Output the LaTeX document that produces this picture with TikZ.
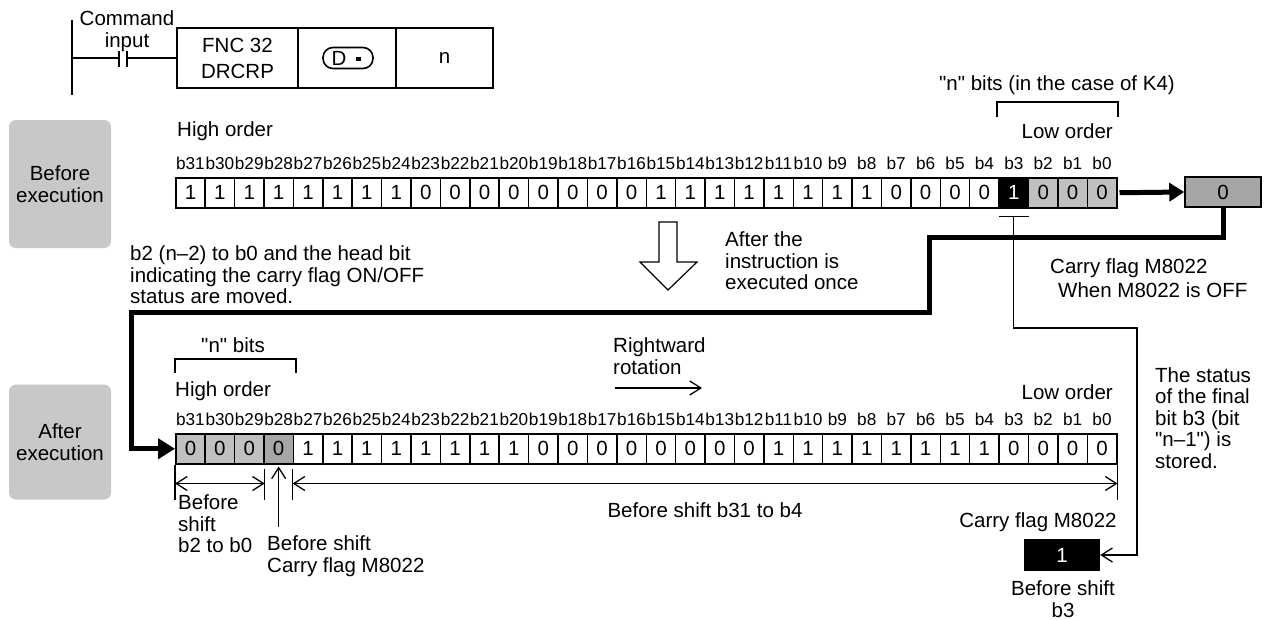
\documentclass[tikz,border=0pt]{standalone}
\usepackage{fontspec}
\setmainfont{Liberation Sans}[Ligatures=TeXOff]
\usetikzlibrary{arrows.meta,calc}
\definecolor{lightg}{HTML}{C0C0C0}
\definecolor{darkg}{HTML}{A6A6A6}
\definecolor{sideg}{HTML}{C8C8C8}
\begin{document}
\begin{tikzpicture}[x=1pt,y=-1pt,
  txt/.style={font=\fontsize{20.5}{21.5}\selectfont, inner sep=0pt, align=left},
  ctxt/.style={font=\fontsize{20.5}{21.5}\selectfont, inner sep=0pt, align=center},
  bitlbl/.style={font=\fontsize{17.2}{17.5}\selectfont, inner sep=0pt},
  cell/.style={draw, line width=1.5pt, minimum width=29.406pt, minimum height=30pt, inner sep=0pt, anchor=north west, font=\fontsize{20.5}{21}\selectfont},
  instrbox/.style={draw, line width=1.5pt, minimum height=60pt, inner sep=0pt, font=\fontsize{20.5}{26}\selectfont, align=center},
  sidebox/.style={fill=sideg, rounded corners=7pt, minimum width=102pt, inner sep=0pt, font=\fontsize{20.5}{22.5}\selectfont, align=center},
  heavy/.style={line width=5pt, line join=miter},
  thinline/.style={line width=1.3pt},
  opentip/.style={-{Straight Barb[length=11pt,width=14pt]}},
  dbltip/.style={{Straight Barb[length=11pt,width=14pt]}-{Straight Barb[length=11pt,width=14pt]}},
  bracket/.style={line width=1.5pt}
]
\useasboundingbox (0,0) rectangle (1268,619);

% ---------------- ladder ----------------
\draw[line width=1.5pt] (72,20) -- (72,95);
\node[ctxt] (cmd) at (127,31) {Command\\input};
\node[instrbox, minimum width=121pt] (f1) at (237.5,58) {FNC 32\\DRCRP};
\node[instrbox, minimum width=98pt] (f2) at (347,58) {};
\node[instrbox, minimum width=97pt] (f3) at (444.5,58) {n};
\node[draw, line width=1.6pt, rounded corners=10pt, minimum width=50pt, minimum height=21pt, inner sep=0pt] (dd) at (348,58) {};
\node[txt] (ddtxt) at (339,58) {D};
\fill (356,56.5) rectangle (360.5,61);
\draw[line width=1.5pt] (72,58) -- (119,58);
\draw[line width=1.5pt] (119,51) -- (119,67);
\draw[line width=1.5pt] (127,51) -- (127,67);
\draw[line width=1.5pt] (127,58) -- (f1.west);

% ---------------- side boxes ----------------
\node[sidebox, minimum height=128pt] (be) at (60,184) {Before\\execution};
\node[sidebox, minimum height=115pt] (ae) at (60,442) {After\\execution};

% ---------------- top register ----------------
\node[txt, anchor=west] (hot) at (177,131) {High order};
\node[txt, anchor=east] (lot) at (1113,131) {Low order};
\node[ctxt] (nbt) at (1057,85) {"n" bits (in the case of K4)};
\draw[bracket] (997,117) -- (997,102) -- (1118,102) -- (1118,117);

\foreach \v/\f/\c [count=\n from 0, evaluate=\n as \i using int(31-\n)] in
 {1/white/black,1/white/black,1/white/black,1/white/black,1/white/black,1/white/black,1/white/black,1/white/black,
  0/white/black,0/white/black,0/white/black,0/white/black,0/white/black,0/white/black,0/white/black,0/white/black,
  1/white/black,1/white/black,1/white/black,1/white/black,1/white/black,1/white/black,1/white/black,1/white/black,
  0/white/black,0/white/black,0/white/black,0/white/black,1/black/white,0/lightg/black,0/lightg/black,0/lightg/black}
{
  \node[cell, fill=\f, text=\c] (t\i) at ({175+\n*29.406},177) {\v};
  \node[bitlbl] (tl\i) at ($(t\i.north)+(0,-14)$) {b\i};
}

\node[draw, line width=1.5pt, fill=darkg, minimum width=76pt, minimum height=30pt, inner sep=0pt, font=\fontsize{20.5}{21}\selectfont] (cf) at (1223,192) {0};
\draw[heavy, shorten <=2pt, -{Triangle[length=15pt,width=18pt]}] (t0.east) -- (cf.west);

% ---------------- middle texts ----------------
\node[txt, anchor=west] (mv) at (130,275) {b2 (n–2) to b0 and the head bit\\indicating the carry flag ON/OFF\\status are moved.};
\draw[line width=1.2pt, fill=white] (659,222) -- (677,222) -- (677,262) -- (697,262) -- (668,290) -- (640,262) -- (659,262) -- cycle;
\node[txt, anchor=west] (once) at (725,261) {After the\\instruction is\\executed once};
\node[txt, anchor=west] (cfa) at (1050,268) {Carry flag M8022};
\node[txt, anchor=west] (cfb) at (1058,290) {When M8022 is OFF};
\node[txt, anchor=west] (stat) at (1155,418) {The status\\of the final\\bit b3 (bit\\"n–1") is\\stored.};

% ---------------- bottom register ----------------
\node[ctxt] (nbb) at (233,345) {"n" bits};
\draw[bracket] (175,373) -- (175,359) -- (296,359) -- (296,373);
\node[txt, anchor=west] (hob) at (175,391) {High order};
\node[txt, anchor=east] (lob) at (1113,392) {Low order};
\node[txt, anchor=west] (rot) at (613,356) {Rightward\\rotation};
\coordinate (r1) at (615,388);
\coordinate (r2) at (702,388);
\draw[thinline, opentip] (r1) -- (r2);

\foreach \v/\f [count=\n from 0, evaluate=\n as \i using int(31-\n)] in
 {0/lightg,0/lightg,0/lightg,0/darkg,
  1/white,1/white,1/white,1/white,1/white,1/white,1/white,1/white,
  0/white,0/white,0/white,0/white,0/white,0/white,0/white,0/white,
  1/white,1/white,1/white,1/white,1/white,1/white,1/white,1/white,
  0/white,0/white,0/white,0/white}
{
  \node[cell, fill=\f] (u\i) at ({175+\n*29.406},433) {\v};
  \node[bitlbl] (ul\i) at ($(u\i.north)+(0,-14)$) {b\i};
}

% thick rotation path
\coordinate (k1) at (929,237);
\coordinate (k2) at (131,312);
\draw[heavy, -{Triangle[length=17pt,width=20pt]}] (cf.south) |- (k1) |- (k2) |- (u31.west);

% thin path from b3 to carry flag
\coordinate (tb) at ($(t3.south)+(0,8)$);
\draw[thinline] ($(tb)+(-15,0)$) -- ($(tb)+(15,0)$);
\coordinate (c1) at (1137,328);
\node[fill=black, text=white, minimum width=76pt, minimum height=32pt, inner sep=0pt, font=\fontsize{20.5}{21}\selectfont] (cb) at (1062,555) {1};
\draw[thinline, opentip] (tb) |- (c1) |- (cb.east);

% dimension arrows under bottom register
\draw[thinline] (u31.south west) -- ++(0,35);
\draw[thinline] ($(u29.south east)+(0,4)$) -- ++(0,31);
\draw[thinline] ($(u27.south west)+(0,4)$) -- ++(0,31);
\draw[thinline] (u0.south east) -- ++(0,35);
\draw[thinline, dbltip] ($(u31.south west)+(0,19)$) -- ($(u29.south east)+(0,19)$);
\draw[thinline, dbltip] ($(u27.south west)+(0,19)$) -- ($(u0.south east)+(0,19)$);
\draw[thinline, opentip] ($(u28.south)+(0,62)$) -- ($(u28.south)+(0,2)$);

\node[txt, anchor=west] (bs1) at (178,524) {Before\\shift\\b2 to b0};
\node[txt, anchor=west] (bs2) at (267,556) {Before shift\\Carry flag M8022};
\node[ctxt] (bs3) at (705,510) {Before shift b31 to b4};
\node[ctxt] (cfc) at (1038,522) {Carry flag M8022};
\node[ctxt] (bs4) at (1063,599) {Before shift\\b3};
\end{tikzpicture}
\end{document}
